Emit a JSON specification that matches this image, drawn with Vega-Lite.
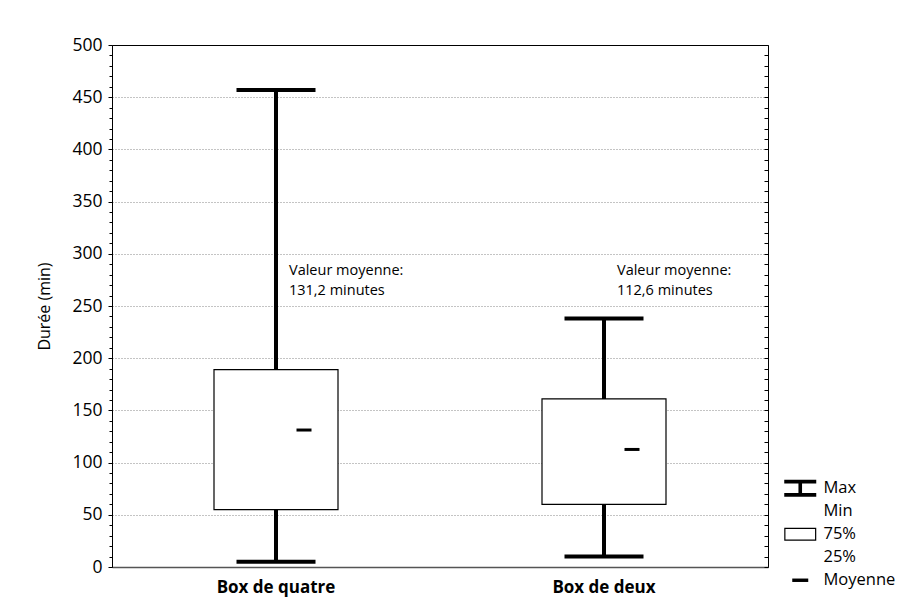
{
  "$schema": "https://vega.github.io/schema/vega-lite/v6.json",
  "autosize": {"type": "none"},
  "padding": {"left": 112, "top": 45, "right": 149, "bottom": 45},
  "width": 656,
  "height": 522,
  "background": "white",
  "config": {
    "font": "Open Sans",
    "view": {"stroke": "black", "strokeWidth": 1},
    "axis": {"labelFont": "Open Sans", "titleFont": "Open Sans", "labelColor": "black", "titleColor": "black"}
  },
  "datasets": {
    "boxes": [
      {"box": "Box de quatre", "min": 5, "q1": 55, "q3": 189, "max": 457, "mean": 131.2, "note": "Valeur moyenne:\n131,2 minutes"},
      {"box": "Box de deux", "min": 10, "q1": 60, "q3": 161, "max": 238, "mean": 112.6, "note": "Valeur moyenne:\n112,6 minutes"}
    ],
    "key": [
      {"item": "Max"},
      {"item": "Min"},
      {"item": "75%"},
      {"item": "25%"},
      {"item": "Moyenne"}
    ]
  },
  "data": {"name": "boxes"},
  "encoding": {
    "x": {
      "field": "box",
      "type": "nominal",
      "sort": null,
      "scale": {"paddingInner": 0, "paddingOuter": 0},
      "axis": {
        "title": null,
        "ticks": false,
        "tickSize": 0,
        "labelAngle": 0,
        "labelFontSize": 17,
        "labelFontWeight": "bold",
        "labelPadding": 12,
        "domainColor": "#555555",
        "domainWidth": 1.5
      }
    }
  },
  "layer": [
    {
      "mark": {"type": "rule", "color": "black", "strokeWidth": 4},
      "encoding": {
        "y": {
          "field": "min",
          "type": "quantitative",
          "scale": {"domain": [0, 500], "nice": false, "zero": true},
          "axis": {
            "orient": "left",
            "title": "Durée (min)",
            "titleFontSize": 16,
            "titleFontWeight": "normal",
            "titlePadding": 19,
            "values": [0,10,20,30,40,50,60,70,80,90,100,110,120,130,140,150,160,170,180,190,200,210,220,230,240,250,260,270,280,290,300,310,320,330,340,350,360,370,380,390,400,410,420,430,440,450,460,470,480,490,500],
            "labelExpr": "datum.value % 50 === 0 ? datum.label : ''",
            "labelFontSize": 17.5,
            "labelPadding": 6,
            "tickColor": "black",
            "tickSize": {"condition": {"test": "datum.value % 50 === 0", "value": 4}, "value": 3},
            "domainColor": "black",
            "grid": true,
            "gridColor": "#888888",
            "gridDash": [1, 2],
            "gridOpacity": {"condition": {"test": "datum.value % 50 === 0 && datum.value > 0 && datum.value < 500", "value": 1}, "value": 0}
          }
        },
        "y2": {"field": "max"}
      }
    },
    {
      "mark": {"type": "bar", "size": 124, "fill": "white", "stroke": "black", "strokeWidth": 1.2},
      "encoding": {
        "y": {
          "field": "q1",
          "type": "quantitative",
          "axis": {
            "orient": "right",
            "offset": -4,
            "title": null,
            "labels": false,
            "grid": false,
            "domain": false,
            "values": [0,10,20,30,40,50,60,70,80,90,100,110,120,130,140,150,160,170,180,190,200,210,220,230,240,250,260,270,280,290,300,310,320,330,340,350,360,370,380,390,400,410,420,430,440,450,460,470,480,490,500],
            "tickColor": "black",
            "tickSize": 4
          }
        },
        "y2": {"field": "q3"}
      }
    },
    {
      "mark": {"type": "tick", "color": "black", "opacity": 1, "size": 79, "thickness": 4},
      "encoding": {"y": {"field": "min", "type": "quantitative", "axis": null}}
    },
    {
      "mark": {"type": "tick", "color": "black", "opacity": 1, "size": 79, "thickness": 4},
      "encoding": {"y": {"field": "max", "type": "quantitative", "axis": null}}
    },
    {
      "mark": {"type": "tick", "color": "black", "opacity": 1, "size": 15, "thickness": 3, "xOffset": 28},
      "encoding": {"y": {"field": "mean", "type": "quantitative", "axis": null}}
    },
    {
      "mark": {"type": "text", "align": "left", "baseline": "alphabetic", "dx": 13, "fontSize": 14.5, "lineHeight": 20, "lineBreak": "\n", "color": "black"},
      "encoding": {
        "y": {"datum": 280, "type": "quantitative", "axis": null},
        "text": {"field": "note"}
      }
    },
    {
      "data": {"name": "key"},
      "mark": {"type": "point", "filled": true, "color": "black", "opacity": 0},
      "encoding": {
        "x": {"value": 0},
        "y": {"value": 0},
        "shape": {
          "field": "item",
          "type": "nominal",
          "sort": null,
          "scale": {
            "domain": ["Max", "Min", "75%", "25%", "Moyenne"],
            "range": [
              "M-4,-2.1H4V-1.2H-4Z M-4,1.2H4V2.1H-4Z M-0.45,-1.2H0.45V1.2H-0.45Z",
              "M0,0Z",
              "M-4,-1.63H4V1.63H-4Z M-3.7,-1.33V1.33H3.7V-1.33Z",
              "M0,0Z",
              "M-2,-0.43H2V0.43H-2Z"
            ]
          },
          "legend": {
            "title": null,
            "orient": "none",
            "legendX": 680,
            "legendY": 435,
            "padding": 0,
            "symbolSize": 64,
            "symbolType": "circle",
            "symbolFillColor": "black",
            "symbolStrokeColor": "black",
            "symbolStrokeWidth": 0,
            "symbolOpacity": 1,
            "labelFont": "Open Sans",
            "labelFontSize": 16.5,
            "labelColor": "black",
            "labelOffset": 15,
            "rowPadding": 6
          }
        }
      }
    }
  ],
  "resolve": {"axis": {"y": "independent"}}
}
